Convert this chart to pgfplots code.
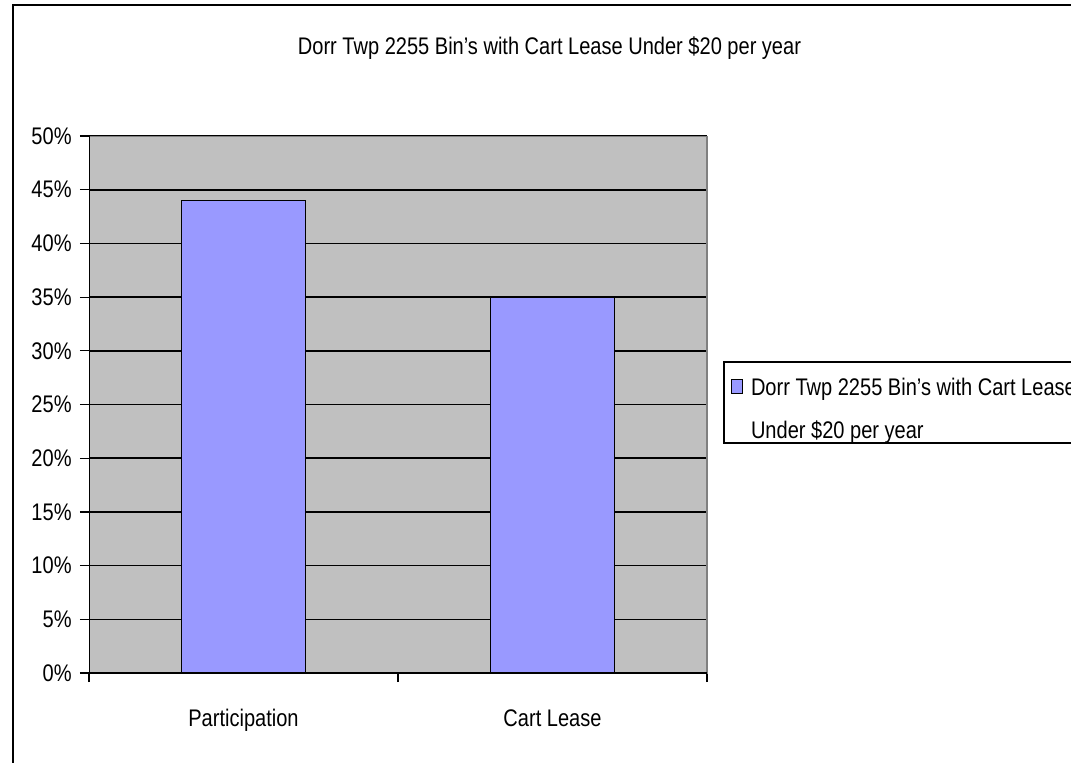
\documentclass[border=0pt]{standalone}
\usepackage{fontspec}
\setmainfont{Liberation Sans}[FakeStretch=0.835]
\usepackage{pgfplots}
\pgfplotsset{compat=1.18}
\definecolor{plotgray}{HTML}{C0C0C0}
\definecolor{barblue}{HTML}{9999FF}
\definecolor{bordergray}{HTML}{808080}
\begin{document}
\fontsize{12}{12.5}\selectfont
\begin{tikzpicture}
\path[use as bounding box] (0,0) rectangle (535.5pt,381pt);
\fill[white] (-5pt,-5pt) rectangle (545pt,390pt);
\draw[line width=1pt] (6.5pt,-5pt) -- (6.5pt,378.5pt);
\draw[line width=1pt] (6pt,378.5pt) -- (545pt,378.5pt);
\node[font=\fontsize{12}{12.5}\selectfont] at (274.75pt,357pt) {Dorr Twp 2255 Bin's with Cart Lease Under \$20 per year};
\begin{axis}[
  at={(44.5pt,44.5pt)}, anchor=south west,
  scale only axis, width=309pt, height=268.5pt,
  xmin=-0.5, xmax=1.5, ymin=0, ymax=50,
  ytick={0,5,...,50},
  yticklabel={\pgfmathprintnumber{\tick}\%},
  /pgf/number format/assume math mode=true,
  xtick={-0.5,0.5,1.5}, xticklabels={},
  extra x ticks={0,1}, extra x tick labels={Participation,Cart Lease},
  extra x tick style={major tick length=0pt, grid=none,
     xticklabel style={anchor=base, yshift=-26.8pt}},
  xtick pos=bottom, ytick pos=left,
  tick align=outside, major tick length=4.5pt,
  tick style={black, line width=0.6pt},
  ticklabel style={font=\fontsize{12}{12.5}\selectfont},
  axis background/.style={fill=plotgray},
  axis line style={bordergray, line width=0.5pt},
  ymajorgrids, major grid style={black, line width=0.8pt},
  ybar, bar width=62pt,
  legend cell align=left,
  legend style={at={(rel axis cs:1.0259,0.581)}, anchor=north west,
     draw=black, line width=0.8pt, fill=white,
     font=\fontsize{12}{12.5}\selectfont,
     inner xsep=3.6pt, inner ysep=0.6pt,
     column sep=0pt, row sep=11pt,
     cells={anchor=base west},
     nodes={inner sep=0pt}},
  legend image code/.code={\draw[fill=barblue, draw=black, line width=0.5pt] (0pt,1pt) rectangle (5.5pt,8pt); \path (9.5pt,0pt);},
]
\addplot[fill=barblue, draw=black, line width=0.5pt] coordinates {(0,44) (1,35)};
\addlegendentry{\rule[-3pt]{0pt}{19pt}Dorr Twp 2255 Bin's with Cart Lease}
\addlegendimage{empty legend}
\addlegendentry{\rule[-7pt]{0pt}{10pt}Under \$20 per year}
\draw[bordergray, line width=0.6pt] (rel axis cs:0,1) -- (rel axis cs:1,1) -- (rel axis cs:1,0);
\draw[black, line width=0.8pt] (rel axis cs:0,1) -- (rel axis cs:0,0) -- (rel axis cs:1,0);
\end{axis}
\end{tikzpicture}
\end{document}
